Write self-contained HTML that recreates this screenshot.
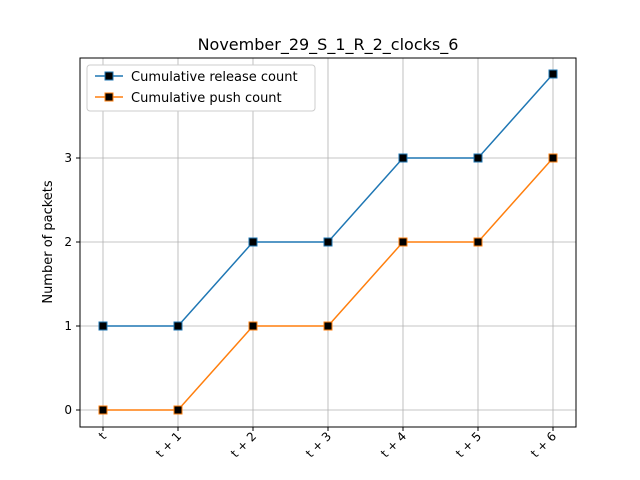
<!DOCTYPE html>
<html><head><meta charset="utf-8"><style>body{margin:0;background:#fff}svg{display:block}</style></head>
<body>
<svg id="chart" width="640" height="480" xmlns="http://www.w3.org/2000/svg" font-family="DejaVu Sans, Liberation Sans, sans-serif">
<rect width="640" height="480" fill="#fff"/>
<text x="328" y="50" font-size="16" text-anchor="middle" fill="#000">November_29_S_1_R_2_clocks_6</text>
<g id="grid"></g>
<g id="series"></g>
<rect x="80" y="58" width="496" height="369" fill="none" stroke="#000" stroke-width="1"/>
<g id="axes"></g>
<text transform="translate(52,242) rotate(-90)" font-size="13" text-anchor="middle">Number of packets</text>
<text x="318" y="490" font-size="13" text-anchor="middle">Time</text>
<g>
<rect x="87" y="65" width="228" height="46" rx="3" fill="#fff" stroke="#ccc"/>
<line x1="95" y1="76" x2="123" y2="76" stroke="#1f77b4" stroke-width="1.5"/>
<rect x="105" y="72" width="8" height="8" fill="#000" stroke="#1f77b4"/>
<text x="131" y="81" font-size="13">Cumulative release count</text>
<line x1="95" y1="97" x2="123" y2="97" stroke="#ff7f0e" stroke-width="1.5"/>
<rect x="105" y="93" width="8" height="8" fill="#000" stroke="#ff7f0e"/>
<text x="131" y="102" font-size="13">Cumulative push count</text>
</g>
</svg>
<script>
const categories=["t","t + 1","t + 2","t + 3","t + 4","t + 5","t + 6"];
const releaseValues=[1,1,2,2,3,3,4];
const pushValues=[0,0,1,1,2,2,3];
const yTicks=[0,1,2,3];
const NS="http://www.w3.org/2000/svg";
const xs=i=>103+i*75;
const ys=v=>410-v*84;
function mk(tag,attrs,parent){const e=document.createElementNS(NS,tag);for(const k in attrs)e.setAttribute(k,attrs[k]);parent.appendChild(e);return e;}
const grid=document.getElementById('grid'),axes=document.getElementById('axes'),series=document.getElementById('series');
categories.forEach((c,i)=>{
const g=mk('line',{x1:xs(i),x2:xs(i),y1:58,y2:427,stroke:'#b0b0b0','stroke-width':0.8},grid);


mk('line',{x1:xs(i),x2:xs(i),y1:427,y2:431,stroke:'#000'},axes);
const t=mk('text',{transform:`translate(${xs(i)+4},${437}) rotate(-45)`,'font-size':12,'text-anchor':'end'},axes);
t.textContent=c;


});
yTicks.forEach(v=>{
const g=mk('line',{x1:80,x2:576,y1:ys(v),y2:ys(v),stroke:'#b0b0b0','stroke-width':0.8},grid);


mk('line',{x1:76,x2:80,y1:ys(v),y2:ys(v),stroke:'#000'},axes);
const t=mk('text',{x:72,y:ys(v)+4,'font-size':12,'text-anchor':'end'},axes);
t.textContent=v;


});
function draw(vals,color,name){
const p=mk('polyline',{points:vals.map((v,i)=>xs(i)+','+ys(v)).join(' '),fill:'none',stroke:color,'stroke-width':1.5},series);


vals.forEach((v,i)=>{
const m=mk('rect',{x:xs(i)-4,y:ys(v)-4,width:8,height:8,fill:'#000',stroke:color},series);


});
}
draw(releaseValues,'#1f77b4','release');
draw(pushValues,'#ff7f0e','push');
</script>
</body></html>
